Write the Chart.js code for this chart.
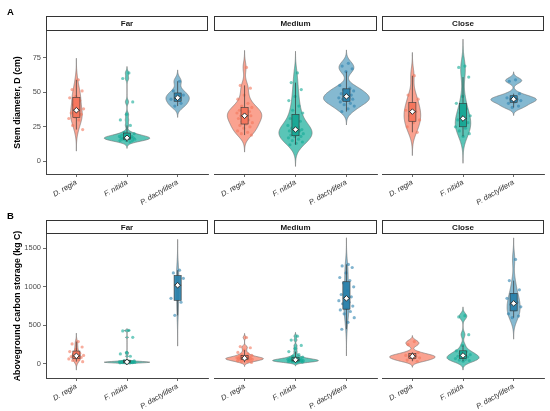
<!DOCTYPE html>
<html>
<head>
<meta charset="utf-8">
<script src="https://cdn.jsdelivr.net/npm/chart.js@4.4.0/dist/chart.umd.min.js"></script>
<style>
  html, body { margin: 0; padding: 0; background: #fff; }
  #wrap { position: relative; width: 550px; height: 411px; overflow: hidden; }
  #wrap canvas { position: absolute; left: 0; }
</style>
</head>
<body>
<div id="wrap"></div>
<script>
// categories
const species = ['D. regia', 'F. nitida', 'P. dactylifera'];
const sites = ['Far', 'Medium', 'Close'];
const rowLetters = ['A', 'B'];
const yTitles = ['Stem diameter, D (cm)', 'Aboveground carbon storage (kg C)'];
const yTicksA = [0, 25, 50, 75];
const yTicksB = [0, 500, 1000, 1500];

// stem diameter (cm), one array per site and species
const diamFarRegia = [59, 52, 51, 47, 46, 44, 41, 38, 36, 35, 34, 32, 31, 30, 26, 23];
const diamFarNitida = [64, 60, 43, 34, 30, 26, 21, 20, 19, 19, 18, 18, 18, 17, 17, 17, 17, 17, 17, 16, 16, 16, 16, 15, 15, 15, 14];
const diamFarDact = [58, 51, 48, 46, 45, 42, 40];
const diamMedRegia = [68, 55, 53, 48, 45, 42, 40, 39, 38, 37, 36, 35, 35, 34, 33, 33, 32, 31, 30, 29, 28, 27, 26, 25, 24, 22, 21, 20, 19];
const diamMedNitida = [64, 57, 52, 47, 44, 40, 37, 35, 33, 31, 29, 27, 26, 25, 24, 23, 23, 22, 22, 21, 20, 20, 19, 18, 18, 17, 16, 15, 14, 13, 12];
const diamMedDact = [71, 69, 67, 65, 55, 53, 52, 51, 50, 49, 48, 47, 46, 46, 45, 45, 44, 43, 42, 41, 40, 38, 36];
const diamCloseRegia = [62, 48, 45, 40, 37, 36, 33, 30, 28, 25, 21];
const diamCloseNitida = [69, 68, 61, 47, 42, 38, 35, 33, 31, 30, 28, 27, 25, 24, 22, 20, 18];
const diamCloseDact = [59, 58, 49, 47, 46, 45, 45, 44, 43, 42, 40, 39];

// aboveground carbon storage (kg C)
const carbFarRegia = [290, 260, 220, 190, 160, 140, 125, 110, 100, 95, 85, 75, 65, 55, 45, 30];
const carbFarNitida = [436, 428, 345, 150, 130, 100, 45, 40, 35, 32, 30, 28, 27, 26, 25, 25, 24, 23, 22, 21, 20, 19, 18, 17, 16, 15, 14];
const carbFarDact = [1215, 1180, 1110, 1020, 850, 800, 630];
const carbMedRegia = [343, 225, 210, 180, 150, 130, 120, 110, 100, 95, 90, 85, 80, 78, 75, 72, 70, 68, 65, 62, 60, 58, 55, 50, 45, 40, 35, 28, 20];
const carbMedNitida = [360, 310, 240, 200, 160, 120, 100, 90, 80, 75, 70, 65, 60, 58, 55, 52, 50, 48, 46, 44, 42, 40, 38, 36, 34, 32, 30, 28, 25, 22];
const carbMedDact = [1290, 1270, 1250, 1180, 1120, 1080, 1050, 1000, 950, 900, 870, 850, 820, 800, 780, 750, 720, 700, 680, 650, 600, 540, 450];
const carbCloseRegia = [290, 250, 150, 120, 110, 100, 90, 80, 65, 50, 35];
const carbCloseNitida = [625, 610, 380, 240, 170, 160, 140, 120, 110, 100, 90, 80, 70, 60, 50, 45, 35];
const carbCloseDact = [1355, 1080, 960, 900, 850, 800, 770, 740, 700, 650, 620, 600];

const diameterGroups = [
  [diamFarRegia, diamFarNitida, diamFarDact],
  [diamMedRegia, diamMedNitida, diamMedDact],
  [diamCloseRegia, diamCloseNitida, diamCloseDact]
];
const carbonGroups = [
  [carbFarRegia, carbFarNitida, carbFarDact],
  [carbMedRegia, carbMedNitida, carbMedDact],
  [carbCloseRegia, carbCloseNitida, carbCloseDact]
];

// styling / layout
const fontFamily = '"Liberation Sans", Arial, Helvetica, sans-serif';
const violinFill = ['rgba(248,118,92,0.68)', 'rgba(20,172,152,0.70)', 'rgba(45,134,175,0.58)'];
const boxFill = ['rgba(246,116,90,0.92)', 'rgba(22,166,148,0.92)', 'rgba(40,128,170,0.92)'];
const pointFill = ['rgba(244,118,92,0.6)', 'rgba(20,170,150,0.6)', 'rgba(45,130,175,0.6)'];
const panelX = [[46, 208], [214, 377], [382, 544]];
const rowBox = [
  { top: 0, height: 205, areaTop: 31, areaBottom: 174, yMin: -9.2, yMax: 94.4, ticks: yTicksA, groups: diameterGroups },
  { top: 205, height: 206, areaTop: 29, areaBottom: 173, yMin: -182, yMax: 1684, ticks: yTicksB, groups: carbonGroups }
];

// --- stats like ggplot's violin / boxplot ---
function quantile(sorted, p) {
  const h = (sorted.length - 1) * p, lo = Math.floor(h);
  const hi = Math.min(lo + 1, sorted.length - 1);
  return sorted[lo] + (h - lo) * (sorted[hi] - sorted[lo]);
}
function bwNrd0(vals) {
  const n = vals.length;
  const mean = vals.reduce((a, b) => a + b, 0) / n;
  const sd = Math.sqrt(vals.reduce((a, b) => a + (b - mean) * (b - mean), 0) / (n - 1));
  const s = vals.slice().sort((a, b) => a - b);
  const iqr = quantile(s, 0.75) - quantile(s, 0.25);
  const lo = Math.min(sd, iqr / 1.34) || sd || 1;
  return 0.9 * lo * Math.pow(n, -0.2);
}
function violinProfile(vals) {
  const bw = bwNrd0(vals);
  const from = Math.min(...vals) - 3 * bw, to = Math.max(...vals) + 3 * bw;
  const steps = 160, ys = [], dens = [];
  for (let i = 0; i <= steps; i++) {
    const yy = from + (to - from) * i / steps;
    let d = 0;
    vals.forEach(v => { const z = (yy - v) / bw; d += Math.exp(-0.5 * z * z); });
    ys.push(yy);
    dens.push(d / (vals.length * bw * Math.sqrt(2 * Math.PI)));
  }
  return { ys, dens };
}
function boxStats(vals) {
  const s = vals.slice().sort((a, b) => a - b);
  const q1 = quantile(s, 0.25), med = quantile(s, 0.5), q3 = quantile(s, 0.75);
  const iqr = q3 - q1;
  const inside = s.filter(v => v >= q1 - 1.5 * iqr && v <= q3 + 1.5 * iqr);
  return { q1, med, q3, lo: inside[0], hi: inside[inside.length - 1] };
}
function jitter(i) {
  return (((i + 1) * 0.6180339887) % 1 - 0.5) * 0.32;
}

function makePanel(r, c) {
  const row = rowBox[r];
  const groups = row.groups[c];
  const isLeft = c === 0;
  const canvas = document.createElement('canvas');
  canvas.width = 550; canvas.height = row.height;
  canvas.style.width = '550px'; canvas.style.height = row.height + 'px';
  canvas.style.top = row.top + 'px';
  document.getElementById('wrap').appendChild(canvas);

  const stats = groups.map(boxStats);
  const profiles = groups.map(violinProfile);
  const maxD = Math.max(...profiles.map(p => Math.max(...p.dens)));

  const datasets = [{
    data: stats.map((s, g) => ({ x: g, y: s.med })),
    pointStyle: 'rectRot', pointRadius: 2.8,
    backgroundColor: '#ffffff', borderColor: '#222', borderWidth: 0.9
  }];
  groups.forEach((vals, g) => {
    datasets.push({
      data: vals.map((v, i) => ({ x: g + jitter(i), y: v })),
      pointRadius: 1.6, borderWidth: 0,
      backgroundColor: pointFill[g]
    });
  });

  const panelPlugin = {
    id: 'panel' + r + c,
    beforeDatasetsDraw(chart) {
      const { ctx, scales: { x, y } } = chart;
      ctx.save();
      profiles.forEach((p, g) => {
        ctx.beginPath();
        for (let i = 0; i < p.ys.length; i++) {
          const px = x.getPixelForValue(g + p.dens[i] / maxD * 0.45);
          const py = y.getPixelForValue(p.ys[i]);
          if (i === 0) ctx.moveTo(px, py); else ctx.lineTo(px, py);
        }
        for (let i = p.ys.length - 1; i >= 0; i--) {
          ctx.lineTo(x.getPixelForValue(g - p.dens[i] / maxD * 0.45), y.getPixelForValue(p.ys[i]));
        }
        ctx.closePath();
        ctx.fillStyle = violinFill[g];
        ctx.fill();
        ctx.strokeStyle = '#6e6e6e';
        ctx.lineWidth = 0.6;
        ctx.stroke();
      });
      ctx.restore();
    },
    afterDatasetDraw(chart, args) {
      if (args.index !== 1) return;
      const { ctx, scales: { x, y } } = chart;
      ctx.save();
      stats.forEach((s, g) => {
        const cx = x.getPixelForValue(g);
        const x0 = x.getPixelForValue(g - 0.07), x1 = x.getPixelForValue(g + 0.07);
        ctx.strokeStyle = '#333';
        ctx.lineWidth = 0.7;
        ctx.beginPath();
        ctx.moveTo(cx, y.getPixelForValue(s.hi)); ctx.lineTo(cx, y.getPixelForValue(s.q3));
        ctx.moveTo(cx, y.getPixelForValue(s.q1)); ctx.lineTo(cx, y.getPixelForValue(s.lo));
        ctx.stroke();
        const top = y.getPixelForValue(s.q3), bot = y.getPixelForValue(s.q1);
        ctx.fillStyle = boxFill[g];
        ctx.fillRect(x0, top, x1 - x0, bot - top);
        ctx.lineWidth = 0.6;
        ctx.strokeRect(x0, top, x1 - x0, bot - top);
        ctx.beginPath();
        ctx.moveTo(x0, y.getPixelForValue(s.med)); ctx.lineTo(x1, y.getPixelForValue(s.med));
        ctx.stroke();
      });
      ctx.restore();
    },
    afterDraw(chart) {
      const { ctx, chartArea: a } = chart;
      ctx.save();
      const h = r === 0 ? 15 : 14;
      ctx.fillStyle = '#fff';
      ctx.fillRect(a.left, a.top - h, a.right - a.left, h);
      ctx.strokeStyle = '#333';
      ctx.lineWidth = 1;
      ctx.strokeRect(a.left + 0.5, a.top - h + 0.5, a.right - a.left - 1, h - 1);
      ctx.fillStyle = '#1a1a1a';
      ctx.font = 'bold 8px ' + fontFamily;
      ctx.textAlign = 'center';
      ctx.textBaseline = 'middle';
      ctx.fillText(sites[c], (a.left + a.right) / 2, a.top - h / 2 + 0.5);
      if (isLeft) {
        ctx.font = 'bold 9.5px ' + fontFamily;
        ctx.textAlign = 'left';
        ctx.textBaseline = 'alphabetic';
        ctx.fillStyle = '#000';
        ctx.fillText(rowLetters[r], 7, r === 0 ? 15 : 14);
      }
      ctx.restore();
    }
  };

  new Chart(canvas, {
    type: 'scatter',
    data: { datasets },
    options: {
      responsive: false,
      animation: false,
      devicePixelRatio: 1,
      layout: { padding: { left: isLeft ? 0 : panelX[c][0], right: 550 - panelX[c][1], top: row.areaTop, bottom: 0 } },
      plugins: { legend: { display: false }, tooltip: { enabled: false } },
      scales: {
        x: {
          type: 'linear', min: -0.6, max: 2.6,
          afterBuildTicks: s => { s.ticks = species.map((n, i) => ({ value: i })); },
          afterFit: s => { s.height = row.height - row.areaBottom; },
          ticks: {
            callback: v => species[v],
            minRotation: 30, maxRotation: 30, padding: 1,
            color: '#333', font: { family: fontFamily, size: 7.5, style: 'italic' }
          },
          grid: { drawOnChartArea: false, drawTicks: true, tickLength: 3, color: '#444', lineWidth: 0.8 },
          border: { display: true, color: '#444', width: 1 }
        },
        y: {
          display: isLeft,
          min: row.yMin, max: row.yMax,
          afterBuildTicks: s => { s.ticks = row.ticks.map(v => ({ value: v })); },
          afterFit: s => { s.width = isLeft ? panelX[0][0] : 0; },
          ticks: { callback: v => String(v), padding: 2, color: '#4d4d4d', font: { family: fontFamily, size: 7.5 } },
          grid: { drawOnChartArea: false, drawTicks: true, tickLength: 3, color: '#444', lineWidth: 0.8 },
          border: { display: true, color: '#444', width: 1 },
          title: {
            display: true, text: yTitles[r], color: '#000',
            padding: { top: 12.5, bottom: 0 },
            font: { family: fontFamily, size: 8.8, weight: 'bold' }
          }
        }
      }
    },
    plugins: [panelPlugin]
  });
}

for (let r = 0; r < 2; r++) {
  for (let c = 0; c < 3; c++) makePanel(r, c);
}
</script>
</body>
</html>
